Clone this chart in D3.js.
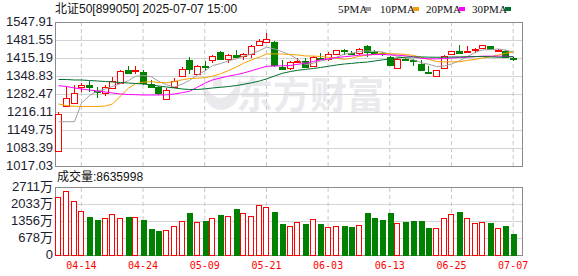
<!DOCTYPE html>
<html>
<head>
<meta charset="utf-8">
<script src="https://cdn.jsdelivr.net/npm/d3@7"></script>
<style>
body { margin: 0; background: #fff; }
svg { display: block; }
text { font-family: "Liberation Sans", "Noto Sans CJK SC", sans-serif; }
</style>
</head>
<body>
<div id="chart"></div>
<script>
// trading days (MM-DD), 2025-04-09 .. 2025-07-07
var dates = ["04-09","04-10","04-11","04-14","04-15","04-16","04-17","04-18","04-21","04-22",
    "04-23","04-24","04-25","04-28","04-29","04-30","05-06","05-07","05-08","05-09",
    "05-12","05-13","05-14","05-15","05-16","05-19","05-20","05-21","05-22","05-23",
    "05-26","05-27","05-28","05-29","05-30","06-03","06-04","06-05","06-06","06-09",
    "06-10","06-11","06-12","06-13","06-16","06-17","06-18","06-19","06-20","06-23",
    "06-24","06-25","06-26","06-27","06-30","07-01","07-02","07-03","07-04","07-07"];

var open  = [1073.4,1235.6,1247.2,1307.2,1314.0,1294.6,1285.0,1307.2,1321.9,1372.1,
    1366.0,1362.5,1319.3,1307.2,1265.1,1310.9,1349.9,1408.9,1356.2,1384.0,
    1406.7,1437.3,1408.9,1427.0,1421.5,1427.4,1464.2,1474.2,1474.2,1383.1,
    1375.7,1401.0,1405.2,1384.6,1416.0,1412.6,1427.4,1446.0,1435.0,1433.6,
    1460.5,1439.0,1432.0,1417.8,1378.3,1413.0,1406.0,1394.2,1364.0,1347.7,
    1378.3,1427.4,1439.9,1439.0,1447.0,1452.1,1458.3,1441.0,1442.1,1414.0];
var high  = [1216.1,1309.4,1315.6,1324.1,1330.0,1309.4,1315.6,1344.0,1371.0,1384.6,
    1384.0,1369.8,1335.2,1311.0,1304.6,1341.5,1380.9,1417.8,1388.0,1403.0,
    1427.4,1439.9,1429.9,1445.8,1433.6,1464.2,1485.2,1507.3,1476.7,1407.8,
    1403.0,1415.2,1415.2,1421.5,1433.6,1437.3,1445.0,1447.0,1442.0,1452.1,
    1464.2,1445.8,1436.0,1421.5,1415.2,1415.0,1412.6,1408.9,1384.6,1372.1,
    1425.2,1441.0,1464.2,1460.0,1451.0,1463.0,1459.0,1450.0,1445.8,1417.8];
var low   = [1067.5,1234.0,1246.0,1291.0,1291.0,1268.8,1275.1,1299.8,1319.3,1357.3,
    1358.0,1314.5,1304.6,1280.0,1264.0,1304.6,1347.7,1356.2,1353.6,1368.0,
    1396.8,1411.5,1396.8,1415.2,1408.9,1415.2,1460.5,1470.5,1383.0,1373.0,
    1372.6,1396.8,1380.9,1380.9,1408.9,1403.0,1426.0,1428.0,1427.4,1427.4,
    1417.8,1427.4,1424.0,1387.0,1375.7,1405.0,1384.6,1371.0,1356.2,1344.0,
    1375.7,1426.0,1430.0,1433.6,1433.6,1451.0,1445.0,1437.0,1417.8,1405.0];
var close = [1208.7,1266.6,1285.0,1315.6,1308.0,1289.8,1307.2,1331.5,1367.3,1362.5,
    1370.0,1323.0,1307.2,1283.6,1298.3,1331.5,1375.7,1374.6,1384.6,1380.0,
    1421.5,1412.6,1425.2,1421.0,1429.9,1458.3,1479.0,1486.3,1390.0,1374.6,
    1399.3,1404.0,1384.6,1417.8,1414.0,1429.9,1443.6,1443.0,1432.0,1449.5,
    1437.3,1437.0,1430.0,1388.3,1412.6,1411.0,1404.0,1372.1,1362.0,1369.8,
    1421.5,1439.9,1431.0,1441.0,1450.0,1462.0,1445.8,1443.0,1421.5,1412.0];
// volume, 万
var volume = [2300,2540,2141,1742,1555,1435,1475,1623,1475,1555,
    1503,1435,1088,997,985,1144,1344,1714,1304,1395,
    1463,1635,1543,1874,1663,1543,1982,1902,1754,1276,
    1144,1304,1276,1435,1276,1116,1144,1196,1156,1196,
    1714,1515,1447,1714,1264,1356,1395,1395,1116,1065,
    1463,1623,1754,1463,1264,1304,1316,1065,1196,864];

// moving averages
var ma5  = [1180.3,1180.3,1180.3,1248.8,1276.8,1293.0,1301.1,1310.4,1320.8,1331.7,
    1347.7,1350.9,1346.0,1329.3,1316.4,1308.7,1319.3,1332.7,1352.9,1369.3,
    1387.3,1394.7,1404.8,1412.1,1422.0,1429.4,1442.7,1454.9,1448.7,1437.6,
    1425.8,1410.8,1390.5,1396.1,1403.9,1410.1,1418.0,1429.7,1432.5,1439.6,
    1441.1,1439.8,1437.2,1428.4,1421.0,1415.8,1409.2,1397.6,1392.3,1383.8,
    1385.9,1393.1,1404.8,1420.6,1436.7,1444.8,1446.0,1448.4,1444.5,1436.9];
var ma10 = [1245.6,1240.1,1237.1,1236.4,1236.4,1236.4,1238.2,1245.6,1275.1,1304.2,
    1320.4,1326.0,1328.2,1325.0,1324.0,1328.2,1335.1,1339.4,1341.1,1342.9,
    1348.0,1357.0,1368.8,1382.5,1395.7,1408.3,1418.7,1429.8,1430.4,1429.8,
    1427.6,1426.8,1422.7,1422.4,1420.8,1418.0,1414.4,1410.1,1414.3,1421.8,
    1425.6,1428.9,1433.4,1430.5,1430.3,1428.4,1424.5,1417.4,1410.4,1402.4,
    1400.8,1401.1,1401.2,1406.5,1410.2,1415.3,1419.5,1426.5,1432.5,1436.7];
var ma20 = [1313.1,1310.1,1304.6,1300.9,1297.2,1293.5,1289.8,1286.1,1282.5,1280.6,
    1279.9,1278.8,1278.8,1278.8,1279.5,1282.5,1287.6,1292.4,1307.9,1323.5,
    1334.2,1341.5,1348.5,1353.8,1359.9,1368.3,1376.9,1384.6,1385.7,1386.3,
    1387.8,1391.9,1395.7,1402.4,1408.2,1413.1,1416.5,1420.0,1422.3,1425.8,
    1426.6,1427.8,1428.1,1426.4,1425.6,1423.2,1419.4,1413.7,1412.3,1412.1,
    1413.2,1415.0,1417.3,1418.5,1420.3,1421.9,1422.0,1422.0,1421.5,1419.6];
var ma30 = [1335.9,1335.9,1334.1,1334.1,1332.2,1330.4,1328.5,1326.7,1324.9,1323.0,
    1321.2,1319.3,1315.6,1312.0,1308.3,1304.6,1300.9,1299.1,1299.1,1301.6,
    1304.6,1307.2,1310.1,1313.8,1318.2,1323.8,1330.4,1338.1,1348.8,1359.0,
    1365.3,1369.9,1373.2,1376.6,1380.2,1384.8,1389.4,1393.1,1395.3,1398.2,
    1400.4,1404.2,1408.3,1411.8,1415.6,1418.2,1419.2,1419.1,1418.3,1418.0,
    1418.0,1418.9,1419.1,1419.8,1420.4,1420.6,1419.5,1418.0,1419.1,1420.3];

var priceTicks = [1017.03,1083.39,1149.75,1216.11,1282.47,1348.83,1415.19,1481.55,1547.91];
var volTicks = [0,678,1356,2033,2711];
var tickDates = ["04-14","04-24","05-09","05-21","06-03","06-13","06-25","07-07"];
var maNames = ["5PMA","10PMA","20PMA","30PMA"];
var maColors = ["#a0a0a0","#f5a000","#ff00ff","#00702f"];
var upColor = "#ff0000", downColor = "#008000";

var width = 578, height = 276;
var plot = {"left": 55, "right": 522, "top": 22, "bottom": 166};
var vol = {"top": 187, "bottom": 255};

var svg = d3.select("#chart")
    .append("svg")
    .attr("width", width)
    .attr("height", height);

var x = d3.scaleBand().domain(dates).range([54.4, 517]);
var y = d3.scaleLinear().domain([1017.03, 1547.91]).range([plot.bottom, plot.top]);
var yv = d3.scaleLinear().domain([0, 2711]).range([vol.bottom, vol.top]);
var cx = function(d) { return Math.round(x(d) + x.bandwidth() / 2) + 0.5; };

// watermark
var wm = svg.append("g").attr("fill", "#eaeaee");
wm.append("path")
    .attr("d", "M202,82 C203,104 214,113 227,109 C238,105 242,92 240,78 C233,94 224,101 216,97 C209,93 206,88 202,82 Z M213,76 L222,76 L222,88 L213,88 Z");
wm.append("text")
    .attr("x", 236).attr("y", 109)
    .style("font-family", "'Noto Sans CJK SC'")
    .style("font-weight", "bold")
    .style("font-size", "37px")
    .text("东方财富");

// price grid + y labels
var yAxis = svg.append("g")
    .attr("transform", "translate(" + plot.left + ",0)")
    .call(d3.axisLeft(y).tickValues(priceTicks).tickFormat(d3.format(".2f"))
        .tickSize(-(plot.right - plot.left)).tickPadding(2));
yAxis.select(".domain").remove();
yAxis.selectAll(".tick line").attr("stroke", "#d4d4d4").attr("shape-rendering", "crispEdges");
yAxis.selectAll(".tick text").attr("fill", "#1c1c30").style("font-size", "13px").attr("dy", "0.3em");

// volume grid + y labels
var vAxis = svg.append("g")
    .attr("transform", "translate(" + plot.left + ",0)")
    .call(d3.axisLeft(yv).tickValues(volTicks)
        .tickFormat(function(d) { return d === 0 ? "0" : d + "万"; })
        .tickSize(-(plot.right - plot.left)).tickPadding(2));
vAxis.select(".domain").remove();
vAxis.selectAll(".tick line").attr("stroke", "#d4d4d4").attr("shape-rendering", "crispEdges");
vAxis.selectAll(".tick text").attr("fill", "#1c1c30").style("font-size", "13px").attr("dy", "0.3em");

// vertical dashed date lines
var xGrid = svg.append("g")
    .attr("transform", "translate(0," + plot.bottom + ")")
    .call(d3.axisBottom(x).tickValues(tickDates).tickSize(-(plot.bottom - plot.top)).tickFormat(""));
xGrid.select(".domain").remove();
xGrid.selectAll(".tick line").attr("stroke", "#c8c8c8").attr("stroke-dasharray", "4,3");

var xAxis = svg.append("g")
    .attr("transform", "translate(0," + vol.bottom + ")")
    .call(d3.axisBottom(x).tickValues(tickDates).tickSize(-(vol.bottom - vol.top)).tickPadding(7));
xAxis.select(".domain").remove();
xAxis.selectAll(".tick line").attr("stroke", "#c8c8c8").attr("stroke-dasharray", "4,3");
xAxis.selectAll(".tick text").attr("fill", "#ff0000")
    .style("font-family", "'DejaVu Sans Mono', monospace").style("font-size", "10px");

// frames
[[plot.top, plot.bottom], [vol.top, vol.bottom]].forEach(function(r) {
    svg.append("rect")
        .attr("x", plot.left + 0.5).attr("y", r[0] + 0.5)
        .attr("width", plot.right - plot.left).attr("height", r[1] - r[0])
        .attr("fill", "none").attr("stroke", "#8c8c8c")
        .attr("shape-rendering", "crispEdges");
});

// candles
var idx = d3.range(dates.length);
var isUp = function(i) { return close[i] >= open[i]; };
var candles = svg.append("g").attr("shape-rendering", "crispEdges");
candles.selectAll("line")
    .data(idx).enter().append("line")
    .attr("x1", function(i) { return cx(dates[i]); })
    .attr("x2", function(i) { return cx(dates[i]); })
    .attr("y1", function(i) { return y(high[i]); })
    .attr("y2", function(i) { return y(low[i]); })
    .attr("stroke", function(i) { return isUp(i) ? upColor : downColor; });
candles.selectAll("rect")
    .data(idx).enter().append("rect")
    .attr("x", function(i) { return cx(dates[i]) - 3; })
    .attr("width", 6)
    .attr("y", function(i) { return Math.round(y(Math.max(open[i], close[i]))) + 0.5; })
    .attr("height", function(i) { return Math.max(1, Math.round(Math.abs(y(open[i]) - y(close[i])))); })
    .attr("fill", function(i) { return isUp(i) ? "#fff" : downColor; })
    .attr("stroke", function(i) { return isUp(i) ? upColor : downColor; });

// moving average lines
var line = d3.line()
    .x(function(d, i) { return cx(dates[i]); })
    .y(function(d) { return y(d); });
[ma5, ma10, ma20, ma30].forEach(function(s, k) {
    svg.append("path")
        .datum(s)
        .attr("d", line)
        .attr("fill", "none")
        .attr("stroke", maColors[k])
        .attr("stroke-width", 1);
});

// volume bars
svg.append("g").attr("shape-rendering", "crispEdges")
    .selectAll("rect")
    .data(idx).enter().append("rect")
    .attr("x", function(i) { return cx(dates[i]) - 3; })
    .attr("width", function(i) { return isUp(i) ? 5 : 6; })
    .attr("y", function(i) { return Math.round(yv(volume[i])) + 0.5; })
    .attr("height", function(i) { return vol.bottom - Math.round(yv(volume[i])); })
    .attr("fill", function(i) { return isUp(i) ? "#fff" : downColor; })
    .attr("stroke", function(i) { return isUp(i) ? upColor : downColor; })
    .attr("stroke-width", function(i) { return isUp(i) ? 1 : 0; });

// titles
svg.append("text").attr("x", 55).attr("y", 13)
    .style("font-size", "12px").attr("fill", "#111")
    .text("北证50[899050] 2025-07-07 15:00");
svg.append("text").attr("x", 57).attr("y", 181)
    .style("font-size", "12px").attr("fill", "#111")
    .text("成交量:8635998");

// legend
var legX = [338, 380, 426, 472];
var leg = svg.append("g");
maNames.forEach(function(n, k) {
    leg.append("text").attr("x", legX[k]).attr("y", 13)
        .style("font-family", "'Liberation Serif', serif").style("font-size", "11px")
        .attr("fill", "#111").text(n);
    leg.append("rect").attr("x", legX[k] + (k === 0 ? 27 : 33)).attr("y", 7)
        .attr("width", 6).attr("height", 4).attr("fill", maColors[k]);
});
</script>
</body>
</html>
